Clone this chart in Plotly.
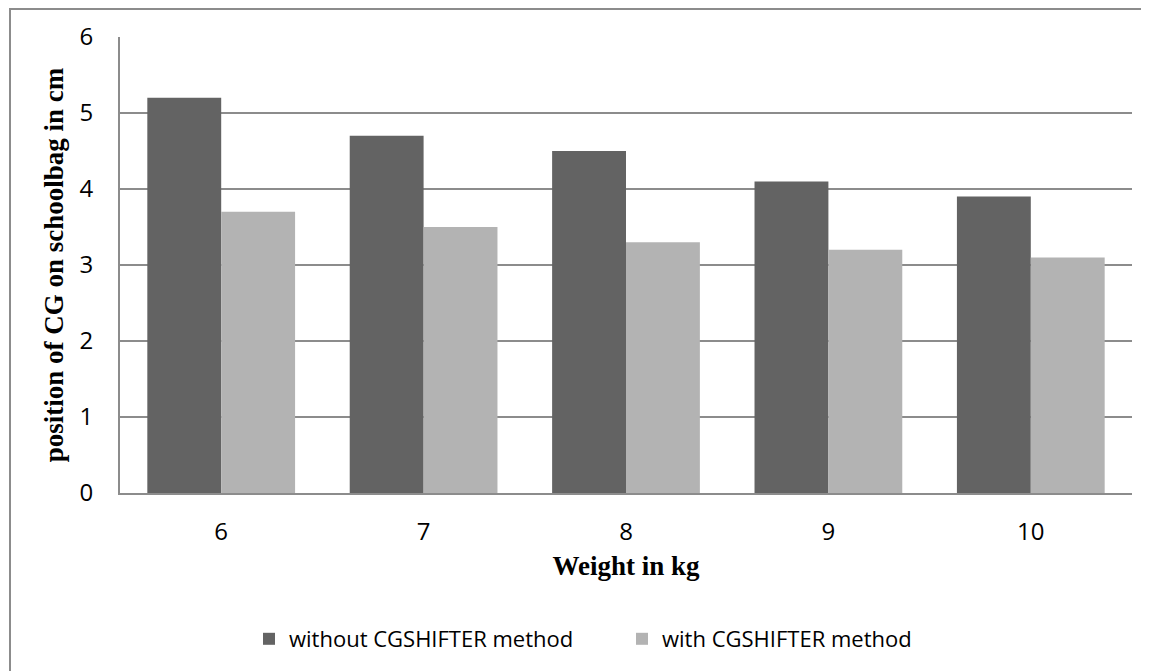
import plotly.graph_objects as go

weights = ["6", "7", "8", "9", "10"]
without_cg = [5.2, 4.7, 4.5, 4.1, 3.9]
with_cg = [3.7, 3.5, 3.3, 3.2, 3.1]
series_names = ["without CGSHIFTER method", "with CGSHIFTER method"]
y_ticks = [0, 1, 2, 3, 4, 5, 6]

fig = go.Figure()
fig.add_trace(go.Bar(x=weights, y=without_cg, name=series_names[0],
                     marker=dict(color="#636363", line=dict(width=0))))
fig.add_trace(go.Bar(x=weights, y=with_cg, name=series_names[1],
                     marker=dict(color="#b3b3b3", line=dict(width=0))))

# page body adds 8px offset; compensate
W, H = 1141, 663
L, R, T, B = 112, 17, 29, 178
pw, ph = W - L - R, H - T - B
bottom = T + ph

serif = "Liberation Serif, Times New Roman, serif"

fig.update_layout(
    width=W, height=H,
    margin=dict(l=L, r=R, t=T, b=B, autoexpand=False),
    paper_bgcolor="white", plot_bgcolor="white",
    barmode="group", bargap=0.27, bargroupgap=0,
    font=dict(family="Open Sans, Liberation Sans, sans-serif", color="#000000", size=24),
    showlegend=True,
    legend=dict(orientation="h", x=(254 - 13 - L) / pw, xanchor="left",
                y=-(631 - bottom) / ph, yanchor="middle",
                font=dict(size=22), traceorder="normal",
                entrywidthmode="pixels", entrywidth=328),
    xaxis=dict(
        type="category", showgrid=False, showline=True, linecolor="#8c8c8c", linewidth=2,
        ticks="", tickfont=dict(size=24), ticklabelstandoff=16, automargin=False,
        title=dict(text="<b>Weight in kg</b>", font=dict(family=serif, size=27),
                   standoff=10),
    ),
    yaxis=dict(
        range=[0, 6], tickvals=y_ticks, showgrid=True, gridcolor="#8c8c8c", gridwidth=2,
        showline=True, linecolor="#8c8c8c", linewidth=2, zeroline=False,
        ticks="", tickfont=dict(size=24), ticklabelstandoff=20, automargin=False,
        title=dict(text="<b>position of CG on schoolbag in cm</b>",
                   font=dict(family=serif, size=27), standoff=8),
    ),
)

fig.add_shape(type="rect", xref="paper", yref="paper",
              x0=(2 - L) / pw, x1=1.2, y0=-0.6, y1=(bottom - 1) / ph,
              line=dict(color="#8c8c8c", width=2), fillcolor="rgba(0,0,0,0)", layer="below")

fig.write_html("out.html")
